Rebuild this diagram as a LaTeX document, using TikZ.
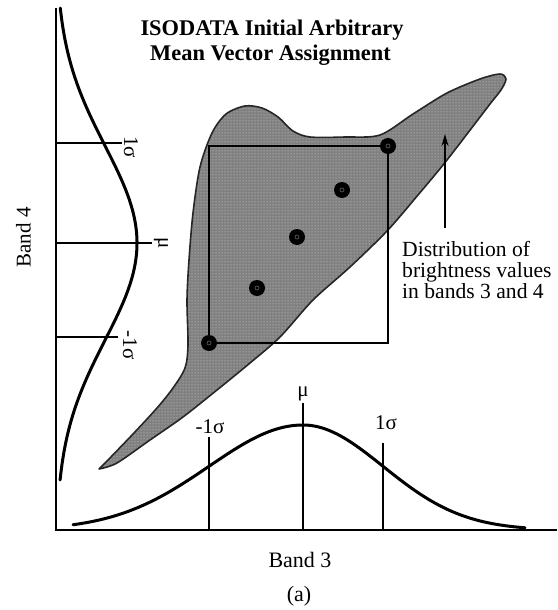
\documentclass[tikz,border=0pt]{standalone}
\usepackage{fontspec}
\setmainfont{Liberation Serif}
\usetikzlibrary{arrows.meta,patterns}
\definecolor{blobgray}{RGB}{128,128,128}
\begin{document}
\begin{tikzpicture}[x=1pt,y=-1pt,
  axisline/.style={line width=1.8pt},
  distcurve/.style={line width=3pt, line cap=round},
  tickline/.style={line width=1.6pt},
  blob/.style={draw=black!85, line width=1.6pt, line join=round,
    preaction={fill=blobgray},
    preaction={pattern=dots, pattern color=white!75!gray}},
  meanbox/.style={line width=1.4pt},
  meandot/.style={circle, fill=black, inner sep=0pt, minimum size=16pt,
    path picture={\draw[black!60, line width=0.6pt] (path picture bounding box.center) circle (2pt);}},
  lbl/.style={font=\fontsize{21}{21}\selectfont, inner sep=0pt},
  titlefont/.style={font=\fontsize{22.4}{24}\selectfont\bfseries, inner sep=0pt},
  textfont/.style={font=\fontsize{21.6}{21}\selectfont, inner sep=0pt},
  arrowline/.style={line width=1.4pt, -{Stealth[length=12pt,width=7pt]}}]
\useasboundingbox (0,0) rectangle (557,610);
% axes
\coordinate (ytop) at (56,8);
\coordinate (origin) at (56,530);
\coordinate (xend) at (557,530);
\draw[axisline] (ytop) -- (origin) -- (xend);
% distribution blob
\draw[blob] plot[smooth, tension=0.5] coordinates {
  (99,469) (107,461) (133,434) (157,408) (173,388) (185,368) (188,345)
  (187,300) (189,260) (193,213) (200,167) (212,133) (226,114) (245,106)
  (262,108) (278,117) (293,131) (310,137) (345,137) (380,135) (413,114)
  (447,93) (480,79) (500,74) (506,79) (501,90) (490,104) (447,160)
  (418,195) (387,231) (350,267) (313,300) (280,337) (250,363) (217,390)
  (183,417) (150,440) (117,463) (99,469)} -- cycle;
% box spanned by the extreme mean vectors
\coordinate (c1) at (209,343);
\coordinate (c5) at (388,146);
\draw[meanbox] (c1) rectangle (c5);
% mean vectors
\node[meandot] (m1) at (c1) {};
\node[meandot] (m2) at (257,288) {};
\node[meandot] (m3) at (297,237) {};
\node[meandot] (m4) at (342,190) {};
\node[meandot] (m5) at (c5) {};
% left (band 4) distribution
\draw[distcurve] plot[domain=8:480, samples=90, variable=\t]
  ({56+81*exp(-((\t-243)/97)^2/2)}, \t);
\coordinate (l1a) at (56,143); \coordinate (l1b) at (122,143);
\coordinate (lma) at (56,243); \coordinate (lmb) at (152,243);
\coordinate (l2a) at (56,337); \coordinate (l2b) at (118,337);
\draw[tickline] (l1a) -- (l1b);
\draw[tickline] (lma) -- (lmb);
\draw[tickline] (l2a) -- (l2b);
\node[lbl, rotate=-90] (lab1) at (131,147) {1σ};
\node[lbl, rotate=-90] (labm) at (161,243) {μ};
\node[lbl, rotate=-90] (lab2) at (130,345) {-1σ};
% bottom (band 3) distribution
\draw[distcurve] plot[domain=73:303, samples=60, variable=\t]
  (\t, {530-105*exp(-((\t-303)/94)^2/2)})
  -- plot[domain=303:525, samples=60, variable=\t]
  (\t, {530-105*exp(-((\t-303)/80)^2/2)});
\coordinate (b1a) at (209,530); \coordinate (b1b) at (209,437);
\coordinate (bma) at (303,530); \coordinate (bmb) at (303,403);
\coordinate (b2a) at (383,530); \coordinate (b2b) at (383,443);
\draw[tickline] (b1a) -- (b1b);
\draw[tickline] (bma) -- (bmb);
\draw[tickline] (b2a) -- (b2b);
\node[lbl] (blab1) at (210,427) {-1σ};
\node[lbl] (blabm) at (303,394) {μ};
\node[lbl] (blab2) at (386,423) {1σ};
% title
\node[titlefont, anchor=base] (title1) at (272,36) {ISODATA Initial Arbitrary};
\node[titlefont, anchor=base] (title2) at (270.5,60) {Mean Vector Assignment};
% annotation
\coordinate (arrS) at (445,228);
\coordinate (arrE) at (445,134);
\draw[arrowline] (arrS) -- (arrE);
\node[textfont, anchor=base west] (d1) at (402,256) {Distribution of};
\node[textfont, anchor=base west] (d2) at (402,277) {brightness values};
\node[textfont, anchor=base west] (d3) at (402,298) {in bands 3 and 4};
% axis labels
\node[lbl, rotate=90] (band4) at (23.5,237.5) {Band 4};
\node[lbl, font=\fontsize{22}{22}\selectfont, anchor=base] (band3) at (300,567) {Band 3};
\node[lbl, font=\fontsize{22}{22}\selectfont, anchor=base] (cap) at (299,601) {(a)};
\end{tikzpicture}
\end{document}
